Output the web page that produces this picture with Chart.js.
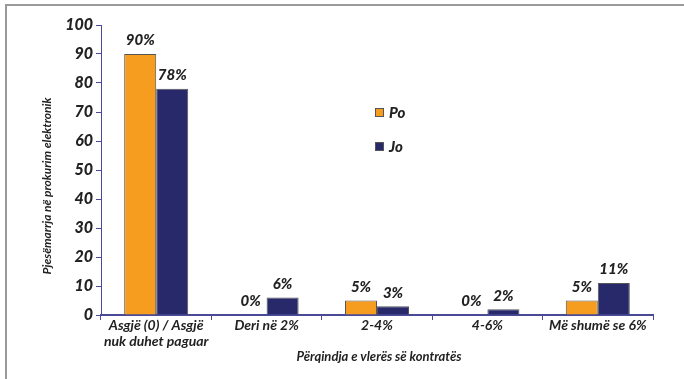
<!DOCTYPE html>
<html>
<head>
<meta charset="utf-8">
<script src="https://cdn.jsdelivr.net/npm/chart.js@4.4.1/dist/chart.umd.min.js"></script>
<style>
  html, body { margin: 0; padding: 0; background: #fff; }
  #wrap { width: 684px; height: 379px; position: relative; }
</style>
</head>
<body>
<div id="wrap"><canvas id="c" width="684" height="379"></canvas></div>
<script>
const categories = [["Asgjë (0) / Asgjë", "nuk duhet paguar"], "Deri në 2%", "2-4%", "4-6%", "Më shumë se 6%"];
const seriesNames = ["Po", "Jo"];
const poValues = [90, 0, 5, 0, 5];
const joValues = [78, 6, 3, 2, 11];
const poLabels = ["90%", "0%", "5%", "0%", "5%"];
const joLabels = ["78%", "6%", "3%", "2%", "11%"];
const yTicks = [0, 10, 20, 30, 40, 50, 60, 70, 80, 90, 100];
const xTitle = "Përqindja e vlerës së kontratës";
const yTitle = "Pjesëmarrja në prokurim elektronik";

const FONT = "Lato, 'DejaVu Sans', sans-serif";
const AXIS = "#4a4a96";
const TEXT = "#222222";

const frame = {
  id: 'frame',
  beforeDraw(chart) {
    const ctx = chart.ctx;
    ctx.save();
    ctx.fillStyle = '#fff';
    ctx.fillRect(0, 0, chart.width, chart.height);
    ctx.strokeStyle = '#9a9a9a';
    ctx.lineWidth = 2;
    ctx.beginPath();
    ctx.moveTo(6, chart.height);
    ctx.lineTo(6, 5);
    ctx.lineTo(chart.width, 5);
    ctx.stroke();
    ctx.restore();
  }
};

const extras = {
  id: 'extras',
  afterDraw(chart) {
    const ctx = chart.ctx;
    ctx.save();
    ctx.fillStyle = TEXT;
    ctx.font = "italic 900 15px " + FONT;
    ctx.textAlign = 'center';
    ctx.textBaseline = 'bottom';
    const labelSets = [poLabels, joLabels];
    chart.data.datasets.forEach((ds, i) => {
      const meta = chart.getDatasetMeta(i);
      meta.data.forEach((bar, j) => {
        ctx.fillText(labelSets[i][j], bar.x, bar.y - 6);
      });
    });
    // axis titles
    ctx.font = "italic bold 13px " + FONT;
    ctx.textAlign = 'center';
    ctx.textBaseline = 'middle';
    ctx.fillText(xTitle, 379, 357);
    ctx.save();
    ctx.translate(47, 186);
    ctx.rotate(-Math.PI / 2);
    ctx.font = "italic bold 12px " + FONT;
    ctx.fillText(yTitle, 0, 0);
    ctx.restore();
    // legend
    const lx = 375, ly = [108, 142];
    chart.data.datasets.forEach((ds, i) => {
      ctx.fillStyle = ds.backgroundColor;
      ctx.fillRect(lx, ly[i], 9, 9);
      ctx.strokeStyle = '#555';
      ctx.lineWidth = 1;
      ctx.strokeRect(lx + 0.5, ly[i] + 0.5, 8, 8);
      ctx.fillStyle = TEXT;
      ctx.font = "italic 900 15px " + FONT;
      ctx.textAlign = 'left';
      ctx.textBaseline = 'middle';
      ctx.fillText(ds.label, lx + 14, ly[i] + 5);
    });
    ctx.restore();
  }
};

new Chart(document.getElementById('c'), {
  type: 'bar',
  data: {
    labels: categories,
    datasets: [
      { label: seriesNames[0], data: poValues, backgroundColor: '#F69C1E', borderColor: '#555', borderWidth: 1 },
      { label: seriesNames[1], data: joValues, backgroundColor: '#27296B', borderColor: '#555', borderWidth: 1 }
    ]
  },
  options: {
    responsive: false,
    animation: false,
    devicePixelRatio: 1,
    layout: { padding: { left: 10, right: 31, top: 25, bottom: 8 } },
    datasets: { bar: { categoryPercentage: 0.58, barPercentage: 1.0 } },
    plugins: { legend: { display: false }, tooltip: { enabled: false } },
    scales: {
      x: {
        grid: { offset: true, drawOnChartArea: false, drawTicks: true, tickLength: 5, color: AXIS },
        border: { display: true, color: AXIS, width: 2 },
        ticks: { color: TEXT, font: { family: FONT, size: 14, style: 'italic', weight: 'bold', lineHeight: 1.1 }, padding: -2, maxRotation: 0, autoSkip: false },
        afterFit(scale) { scale.height = 56; }
      },
      y: {
        min: 0, max: 100,
        afterBuildTicks(scale) { scale.ticks = yTicks.map(v => ({ value: v })); },
        grid: { drawOnChartArea: false, drawTicks: true, tickLength: 5, color: AXIS },
        border: { display: true, color: AXIS, width: 1 },
        ticks: { color: TEXT, font: { family: FONT, size: 16, style: 'italic', weight: '900' }, padding: 3 },
        afterFit(scale) { scale.width = 91; }
      }
    }
  },
  plugins: [frame, extras]
});
</script>
</body>
</html>
